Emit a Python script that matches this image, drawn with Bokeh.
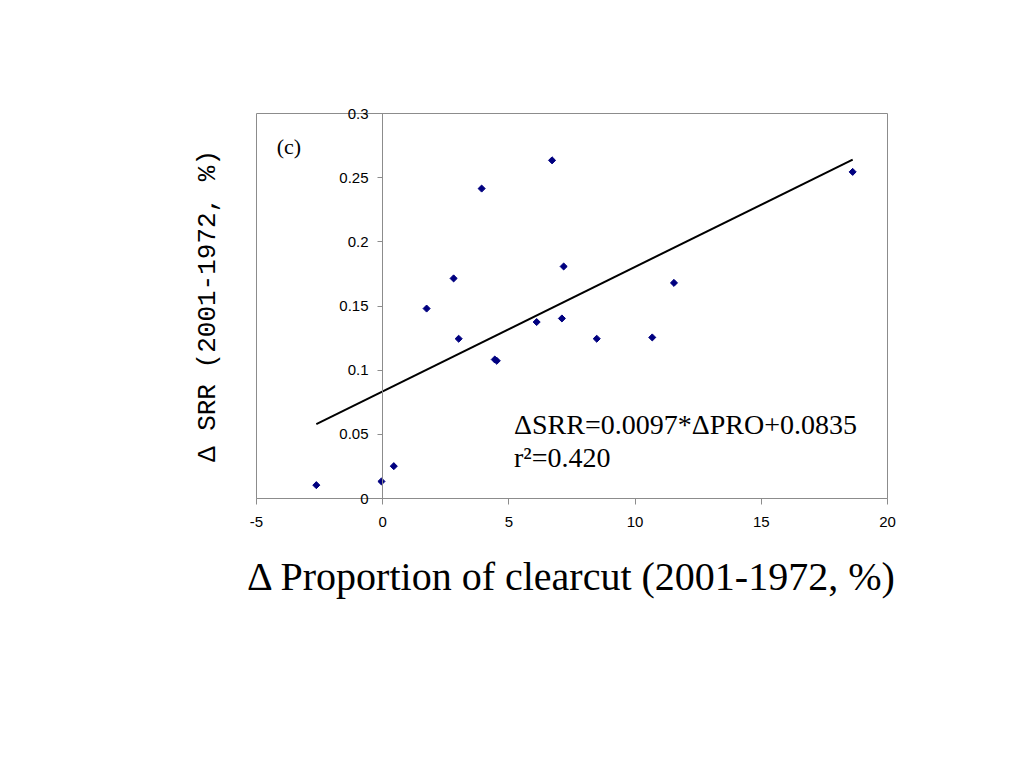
import math
from bokeh.plotting import figure
from bokeh.models import (FixedTicker, CustomJSTickFormatter, LinearAxis, Label,
                          Range1d, ColumnDataSource)
from bokeh.embed import file_html
from bokeh.resources import INLINE

# ---- data ----
delta_pro = [-2.63, -0.05, 0.44, 1.74, 2.81, 3.01, 3.92, 4.44, 4.52, 6.10, 6.71,
             7.10, 7.17, 8.48, 10.68, 11.54, 18.62]
delta_srr = [0.0104, 0.0133, 0.0252, 0.148, 0.1715, 0.1245, 0.2415, 0.1083, 0.1073,
             0.1375, 0.2635, 0.1403, 0.1808, 0.1245, 0.1255, 0.168, 0.2545]
slope = 0.0097
intercept = 0.0835
x_ticks = [-5, 0, 5, 10, 15, 20]
y_ticks = [0, 0.05, 0.1, 0.15, 0.2, 0.25, 0.3]
eq_line1 = "\u0394SRR=0.0097*\u0394PRO+0.0835"
eq_line2 = "r\u00b2=0.420"
panel_tag = "(c)"
x_title = "\u0394 Proportion of clearcut (2001-1972, %)"
y_title = "\u0394 SRR (2001-1972, %)"

fit_x = [min(delta_pro), max(delta_pro)]
fit_y = [slope * v + intercept for v in fit_x]

FRAME_W = 631
p = figure(output_backend="svg", toolbar_location=None,
           frame_width=FRAME_W, frame_height=385,
           x_range=Range1d(-5, 20), y_range=Range1d(0, 0.3),
           min_border_left=256, min_border_top=113, min_border_right=60,
           min_border_bottom=100, y_axis_location=None,
           background_fill_color="white", border_fill_color="white")
p.xgrid.visible = False
p.ygrid.visible = False
p.outline_line_color = "#8c8c8c"
p.outline_line_width = 1

# x axis
xa = p.xaxis[0]
xa.ticker = FixedTicker(ticks=x_ticks)
xa.formatter = CustomJSTickFormatter(code="return tick.toString();")
xa.axis_line_color = "#8c8c8c"
xa.major_tick_line_color = "#8c8c8c"
xa.major_tick_out = 6
xa.major_tick_in = 0
xa.minor_tick_line_color = None
xa.major_label_text_font = "Liberation Sans"
xa.major_label_text_font_size = "15px"
xa.major_label_text_color = "black"
xa.major_label_standoff = 12
xa.axis_label = x_title
xa.axis_label_text_font = "Liberation Serif"
xa.axis_label_text_font_style = "normal"
xa.axis_label_text_font_size = "40px"
xa.axis_label_text_color = "black"
xa.axis_label_standoff = 24

# y axis line + ticks crossing at x = 0
ya = LinearAxis(fixed_location=0)
ya.ticker = FixedTicker(ticks=y_ticks)
ya.axis_line_color = "#8c8c8c"
ya.major_tick_line_color = "#8c8c8c"
ya.major_tick_out = 5
ya.major_tick_in = 0
ya.minor_tick_line_color = None
ya.major_label_text_color = None
p.add_layout(ya, "left")

# y tick labels (shifted right to sit next to x = 0) and y axis title
shift = int(round(FRAME_W * (0 - (-5)) / (20 - (-5))))  # pixels from frame left to x=0
yb = LinearAxis()
yb.ticker = FixedTicker(ticks=y_ticks)
yb.formatter = CustomJSTickFormatter(code="return tick.toString();")
yb.axis_line_color = None
yb.major_tick_line_color = None
yb.minor_tick_line_color = None
yb.major_tick_out = 0
yb.major_tick_in = 0
yb.major_label_text_font = "Liberation Sans"
yb.major_label_text_font_size = "15px"
yb.major_label_text_color = "black"
yb.major_label_standoff = -(shift - 14)
yb.axis_label = y_title
yb.axis_label_text_font = "Liberation Mono"
yb.axis_label_text_font_style = "normal"
yb.axis_label_text_font_size = "26px"
yb.axis_label_text_color = "black"
yb.axis_label_standoff = 113
p.add_layout(yb, "left")

src = ColumnDataSource(dict(x=delta_pro, y=delta_srr))
p.line(fit_x, fit_y, line_color="black", line_width=2)
p.scatter("x", "y", source=src, marker="square", angle=math.pi / 4, size=5,
          fill_color="#000080", line_color="#000080")

p.add_layout(Label(x=5.2, y=0.0576, text=eq_line1, text_font="Liberation Serif",
                   text_font_size="28px", text_color="black", text_baseline="alphabetic"))
p.add_layout(Label(x=5.2, y=0.032, text=eq_line2, text_font="Liberation Serif",
                   text_font_size="28px", text_color="black", text_baseline="alphabetic"))
p.add_layout(Label(x=-4.2, y=0.274, text=panel_tag, text_font="Liberation Serif",
                   text_font_size="22px", text_color="black", text_baseline="alphabetic"))

open("out.html", "w").write(file_html(p, INLINE))
